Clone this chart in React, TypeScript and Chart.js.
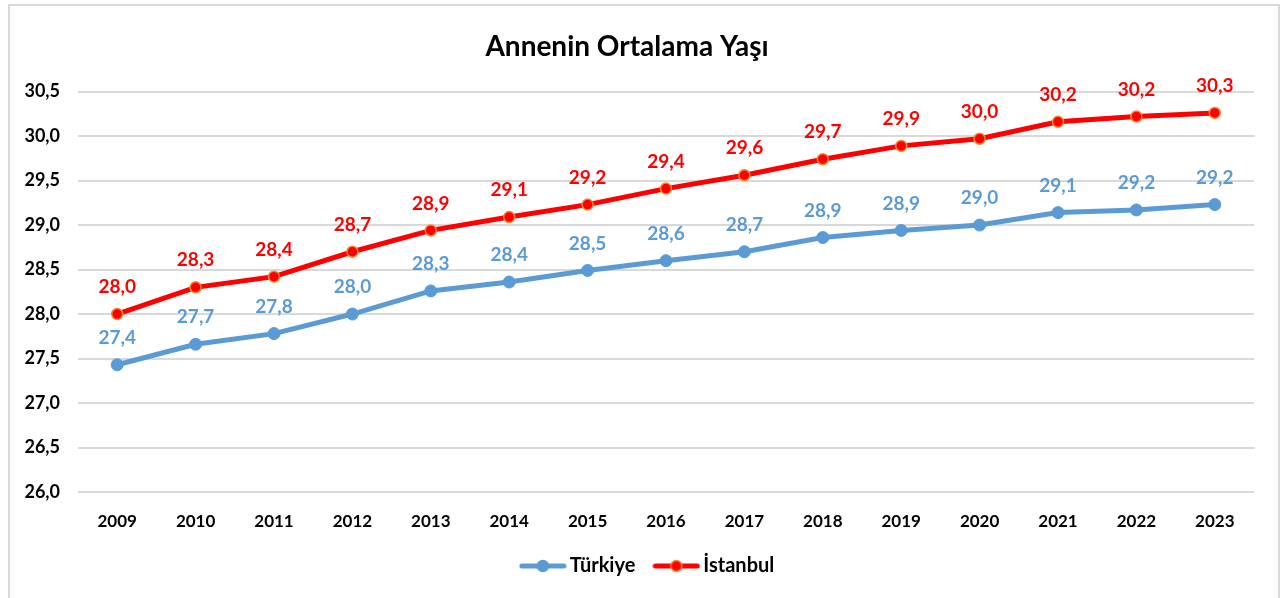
import React, { useEffect, useRef } from "react";
import { Chart, registerables } from "chart.js";
Chart.register(...registerables);

const chartTitle = "Annenin Ortalama Yaşı";
const years = ["2009", "2010", "2011", "2012", "2013", "2014", "2015", "2016", "2017", "2018", "2019", "2020", "2021", "2022", "2023"];
const turkiye = [27.43, 27.66, 27.78, 28.0, 28.26, 28.36, 28.49, 28.6, 28.7, 28.86, 28.94, 29.0, 29.14, 29.17, 29.23];
const istanbul = [28.0, 28.3, 28.42, 28.7, 28.94, 29.09, 29.23, 29.41, 29.56, 29.74, 29.89, 29.97, 30.16, 30.22, 30.26];
const seriesNames = ["Türkiye", "İstanbul"];
const yMin = 26;
const yMax = 30.5;
const yStep = 0.5;

const BLUE = "#5B9BD5";
const RED = "#FF0000";
const ORANGE = "#F08A30";
const FONT = "Lato";

const fmt = (v: number, d: number) => v.toFixed(d).replace(".", ",");

function legendImage(line: string, fill: string, stroke: string) {
  const c = document.createElement("canvas");
  c.width = 48;
  c.height = 14;
  const ctx = c.getContext("2d")!;
  ctx.strokeStyle = line;
  ctx.lineWidth = 5;
  ctx.lineCap = "round";
  ctx.beginPath();
  ctx.moveTo(3, 7);
  ctx.lineTo(45, 7);
  ctx.stroke();
  ctx.beginPath();
  ctx.arc(24, 7, 5.5, 0, Math.PI * 2);
  ctx.fillStyle = fill;
  ctx.fill();
  ctx.lineWidth = 1.5;
  ctx.strokeStyle = stroke;
  ctx.stroke();
  return c;
}

const frame = {
  id: "frame",
  afterLayout(chart: any) {
    if (chart.legend) {
      chart.legend.left += 23;
      chart.legend.right += 23;
    }
  },
  beforeDraw(chart: any) {
    const ctx = chart.ctx;
    ctx.save();
    ctx.fillStyle = "#fff";
    ctx.fillRect(0, 0, chart.width, chart.height);
    ctx.strokeStyle = "#D9D9D9";
    ctx.lineWidth = 2;
    ctx.strokeRect(9, 5, 1270, 600);
    ctx.restore();
  },
};

const dataLabels = {
  id: "dataLabels",
  afterDatasetsDraw(chart: any) {
    const ctx = chart.ctx;
    ctx.save();
    ctx.font = `bold 19px ${FONT}`;
    ctx.textAlign = "center";
    ctx.textBaseline = "middle";
    chart.data.datasets.forEach((ds: any, i: number) => {
      const meta = chart.getDatasetMeta(i);
      ctx.fillStyle = ds.borderColor;
      meta.data.forEach((pt: any, j: number) => {
        ctx.fillText(fmt(ds.data[j], 1), pt.x, pt.y - 27);
      });
    });
    ctx.restore();
  },
};

export default function App() {
  const ref = useRef<HTMLCanvasElement>(null);
  useEffect(() => {
    const imgs = [legendImage(BLUE, BLUE, BLUE), legendImage(RED, RED, ORANGE)];
    const chart = new Chart(ref.current!, {
      type: "line",
      data: {
        labels: years,
        datasets: [
          {
            label: seriesNames[0],
            data: turkiye,
            borderColor: BLUE,
            backgroundColor: BLUE,
            borderWidth: 5,
            pointRadius: 6,
            pointBackgroundColor: BLUE,
            pointBorderColor: BLUE,
            pointBorderWidth: 1,
          } as any,
          {
            label: seriesNames[1],
            data: istanbul,
            borderColor: RED,
            backgroundColor: RED,
            borderWidth: 5,
            pointRadius: 5.5,
            pointBackgroundColor: RED,
            pointBorderColor: ORANGE,
            pointBorderWidth: 1.5,
          } as any,
        ],
      },
      options: {
        animation: false,
        responsive: false,
        layout: { padding: { left: 0, right: 33, top: 0, bottom: 12 } },
        elements: { line: { tension: 0 }, point: { pointStyle: "circle" } },
        plugins: {
          title: {
            display: true,
            text: chartTitle,
            color: "#000",
            font: { family: FONT, size: 28, weight: "bold" },
            padding: { top: 30, bottom: 28 },
          },
          legend: {
            position: "bottom",
            labels: {
              usePointStyle: true,
              pointStyleWidth: 34,
              padding: 24,
              color: "#000",
              font: { family: FONT, size: 20, weight: "bold" },
              generateLabels: (c: any) =>
                c.data.datasets.map((ds: any, i: number) => ({
                  text: ds.label,
                  pointStyle: imgs[i],
                  fillStyle: ds.borderColor,
                  strokeStyle: ds.borderColor,
                  lineWidth: 0,
                  datasetIndex: i,
                  hidden: false,
                  fontColor: "#000",
                })),
            },
          },
          tooltip: { enabled: false },
        },
        scales: {
          x: {
            offset: true,
            afterFit: (s: any) => {
              s.height = 40;
            },
            grid: { display: false, drawTicks: false },
            border: { display: false },
            ticks: { color: "#000", padding: 19, font: { family: FONT, size: 17, weight: "bold" }, maxRotation: 0 },
          },
          y: {
            min: yMin,
            max: yMax,
            afterFit: (s: any) => {
              s.width = 78;
            },
            grid: { color: "#D9D9D9", lineWidth: 2, drawTicks: false },
            border: { display: false },
            ticks: {
              stepSize: yStep,
              padding: 18,
              color: "#000",
              font: { family: FONT, size: 18, weight: "bold" },
              callback: (v: any) => fmt(Number(v), 1),
            },
          },
        },
      },
      plugins: [frame, dataLabels],
    });
    return () => chart.destroy();
  }, []);
  return (
    <div style={{ position: "fixed", left: 0, top: 0, width: 1287, height: 598 }}>
      <canvas ref={ref} width={1287} height={598} style={{ display: "block" }} />
    </div>
  );
}
